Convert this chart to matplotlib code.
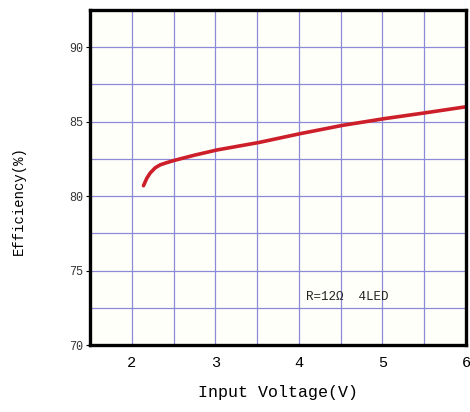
import matplotlib.pyplot as plt
import numpy as np

# -------------------------
# Data
# -------------------------
voltage = [2.14, 2.18, 2.22, 2.28, 2.34, 2.42, 2.51, 2.75, 3.02, 3.52, 4.02, 4.52, 5.02, 5.52, 6.0]
efficiency = [80.7, 81.2, 81.55, 81.9, 82.1, 82.25, 82.4, 82.75, 83.1, 83.6, 84.2, 84.75, 85.2, 85.6, 86.0]

x_ticks = [2, 3, 4, 5, 6]
y_ticks = [70, 75, 80, 85, 90]
note = "R=12\u03a9  4LED"

mono = "Liberation Mono"

fig = plt.figure(figsize=(4.7, 4.12), dpi=100)
ax = fig.add_axes([90 / 470, (412 - 345) / 412, 376 / 470, 335 / 412])
ax.set_facecolor("#fffffa")

ax.plot(voltage, efficiency, color="#cc1f2a", lw=2.6, solid_capstyle="round")

ax.set_xlim(1.5, 6)
ax.set_ylim(70, 92.5)

# grid every half volt / 2.5 %
ax.set_xticks(np.arange(1.5, 6.01, 0.5), minor=True)
ax.set_yticks(np.arange(70, 92.6, 2.5), minor=True)
ax.grid(True, which="both", color="#8a8ad8", lw=0.9)
ax.set_axisbelow(True)

ax.set_xticks(x_ticks)
ax.set_xticklabels([str(t) for t in x_ticks], family=mono, fontsize=11)
ax.set_yticks(y_ticks)
ax.set_yticklabels([str(t) for t in y_ticks], family=mono, fontsize=8.5, color="#333333")
ax.tick_params(axis="x", which="both", length=0, pad=8)
ax.tick_params(axis="y", which="major", length=3, pad=2)
ax.tick_params(axis="y", which="minor", length=0)

for s in ax.spines.values():
    s.set_linewidth(2.4)
    s.set_color("black")

ax.text(4.08, 73.2, note, family=mono, fontsize=9, color="#222222", va="center")

ax.set_xlabel("Input Voltage(V)", family=mono, fontsize=12, labelpad=11)
ax.set_ylabel("Efficiency(%)", family=mono, fontsize=10)
ax.yaxis.set_label_coords(-0.17, 0.43)

fig.savefig("out.png", dpi=100)
